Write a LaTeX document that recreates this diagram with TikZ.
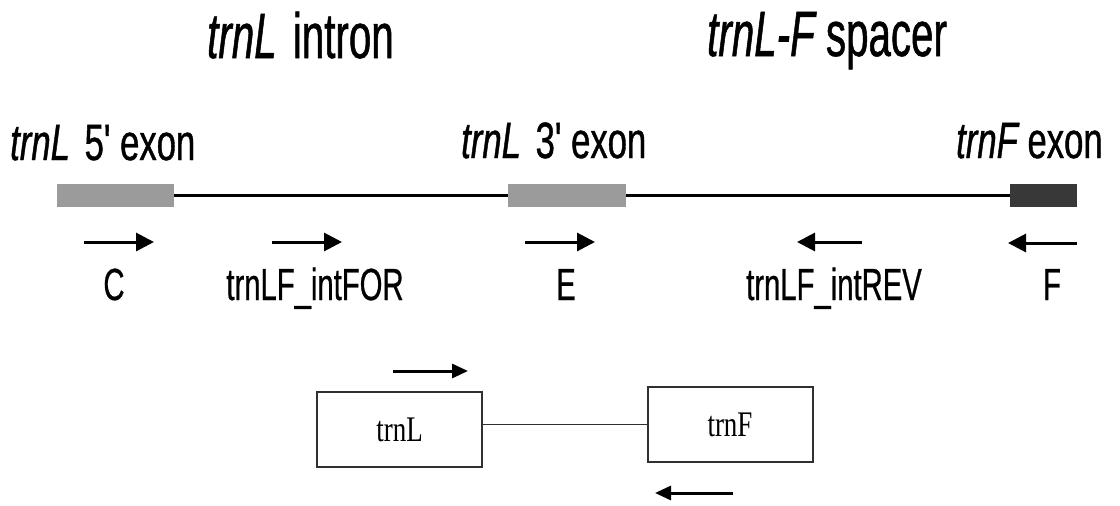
\documentclass[tikz,border=0pt]{standalone}
\usepackage{fontspec}
\usetikzlibrary{arrows.meta}
\newfontfamily\titlefont[FakeStretch=0.63,FakeBold=0.8]{Liberation Sans}
\newfontfamily\regionfont[FakeStretch=0.68,FakeBold=0.8]{Liberation Sans}
\newfontfamily\labfont[FakeStretch=0.65,FakeBold=0.6]{Liberation Sans}
\newfontfamily\boxfont[FakeStretch=0.75]{Liberation Serif}
\definecolor{exongray}{HTML}{9B9B9B}
\definecolor{exondark}{HTML}{383838}
\definecolor{boxline}{HTML}{303030}
\tikzset{
  title/.style={anchor=base west, inner sep=0pt, font=\titlefont\fontsize{64}{64}\selectfont},
  region/.style={anchor=base west, inner sep=0pt, font=\regionfont\fontsize{51}{51}\selectfont},
  primerlabel/.style={anchor=base, inner sep=0pt, font=\labfont\fontsize{45}{45}\selectfont},
  exonbox/.style={draw=none, inner sep=0pt, minimum height=23pt},
  primer/.style={line width=3pt, -{Triangle[length=18pt,width=18pt]}},
  genebox/.style={draw=boxline, line width=2pt, inner sep=0pt, minimum width=165pt, minimum height=75pt, font=\boxfont\fontsize{36}{36}\selectfont},
  pcr/.style={line width=3pt, -{Triangle[length=16pt,width=14pt]}}
}
\begin{document}
\begin{tikzpicture}[x=1pt,y=-1pt]
\useasboundingbox (0,0) rectangle (1120,506);

% region titles
\node[title] (tIntron) at (207,58) {\itshape trnL\upshape\hspace{5pt} intron};
\node[title] (tSpacer) at (707,56) {\itshape trnL-F\upshape\ spacer};

% exon labels
\node[region] (l5) at (10,160) {\itshape trnL\upshape\hspace{5pt} 5' exon};
\node[region] (l3) at (461,158) {\itshape trnL\upshape\hspace{5pt} 3' exon};
\node[region] (lF) at (956,158) {\itshape trnF\upshape\ exon};

% gene map: exons joined by intron and spacer
\node[exonbox, fill=exongray, minimum width=117pt] (ex5) at (115.5,195.5) {};
\node[exonbox, fill=exongray, minimum width=118pt] (ex3) at (567,195.5) {};
\node[exonbox, fill=exondark, minimum width=67pt] (exF) at (1043.5,195.5) {};
\draw[line width=3pt] (ex5.east) -- (ex3.west);
\draw[line width=3pt] (ex3.east) -- (exF.west);

% primer positions and directions
\coordinate (cS) at (84,242);   \coordinate (cE) at (154,242);
\coordinate (iS) at (272,242);  \coordinate (iE) at (342,242);
\coordinate (eS) at (525,242);  \coordinate (eE) at (595,242);
\coordinate (rS) at (862,242);  \coordinate (rE) at (797,242);
\coordinate (fS) at (1077,243); \coordinate (fE) at (1008,243);
\draw[primer] (cS) -- (cE);
\draw[primer] (iS) -- (iE);
\draw[primer] (eS) -- (eE);
\draw[primer] (rS) -- (rE);
\draw[primer] (fS) -- (fE);

% primer names
\node[primerlabel] (pC) at (114,300) {C};
\node[primerlabel] (pFor) at (315,300) {trnLF\_intFOR};
\node[primerlabel] (pE) at (566,300) {E};
\node[primerlabel] (pRev) at (834,300) {trnLF\_intREV};
\node[primerlabel] (pF) at (1052,300) {F};

% amplified fragment
\node[genebox] (bL) at (399.5,429.5) {trnL};
\node[genebox] (bF) at (730,424.5) {trnF};
\draw[line width=1.5pt, boxline] (bL.east |- bF.west) -- (bF.west);
\coordinate (aS) at (393,371); \coordinate (aE) at (468,371);
\coordinate (bS) at (733,493); \coordinate (bE) at (655,493);
\draw[pcr] (aS) -- (aE);
\draw[pcr] (bS) -- (bE);
\end{tikzpicture}
\end{document}
